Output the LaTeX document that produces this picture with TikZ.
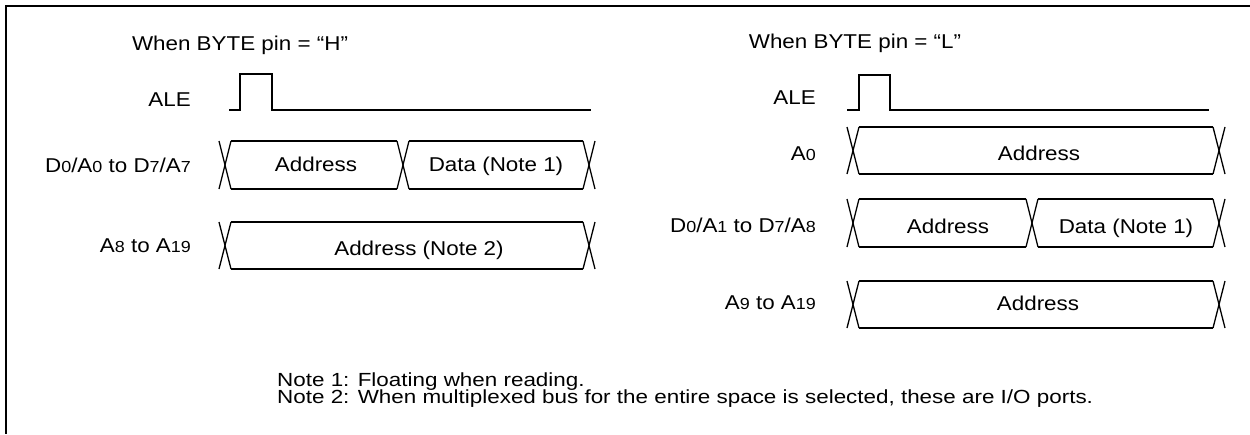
\documentclass[tikz,border=0pt]{standalone}
\usepackage{fontspec}
\setmainfont{Liberation Sans}
\newfontfamily\lbfam[FakeStretch=1.12]{Liberation Sans}
\newfontfamily\ntfam[FakeStretch=1.18]{Liberation Sans}
\newcommand\lbfont{\lbfam\fontsize{20}{24}\selectfont}
\newcommand\ntfont{\ntfam\fontsize{19}{17.5}\selectfont}
\newcommand\dg[1]{{\fontsize{16}{18}\selectfont #1}}
\tikzset{
  lbl/.style={font=\lbfont, inner sep=0pt, anchor=base east},
  txt/.style={font=\lbfont, inner sep=0pt, anchor=base},
  ttl/.style={font=\lbfont, inner sep=0pt, anchor=base},
  wave/.style={line width=1.3pt, line join=miter},
  frameline/.style={line width=2.4pt},
  note/.style={font=\ntfont, inner sep=0pt, anchor=base west, align=left}
}
% crossings of a bus row: #1 top, #2 bottom, #3 list of crossing centres
\newcommand\busrow[3]{%
  \foreach \c in {#3} {
    \draw[wave] (\c-6,#1) -- (\c+6,#2);
    \draw[wave] (\c-6,#2) -- (\c+6,#1);
  }%
}
% top and bottom lines of one bus segment
\newcommand\busline[4]{%
  \draw[wave] (#3+6,#1) -- (#4-6,#1);
  \draw[wave] (#3+6,#2) -- (#4-6,#2);
}
\begin{document}
\begin{tikzpicture}[x=1pt,y=-1pt]
\useasboundingbox (0,0) rectangle (1250,434);
% frame
\coordinate (ftr) at (1250,6);
\coordinate (ftl) at (6,6);
\coordinate (fbl) at (6,434);
\draw[frameline] (ftr) -- (ftl) -- (fbl);

% ---------------- left panel ----------------
\node[ttl] (titleH) at (240,50) {When BYTE pin = “H”};
\node[lbl] (aleL) at (191,106) {ALE};
\coordinate (aleL0) at (229,110);
\coordinate (aleL1) at (591,110);
\draw[wave] (aleL0) -- (240,110) -- (240,74) -- (272,74) -- (272,110) -- (aleL1);

\node[lbl] (dL) at (191,172) {D\dg{0}/A\dg{0} to D\dg{7}/A\dg{7}};
\busrow{141}{189}{225,403,589}
\busline{141}{189}{225}{403}
\busline{141}{189}{403}{589}
\node[txt] (dLaddr) at (316,171) {Address};
\node[txt] (dLdata) at (496,171) {Data (Note 1)};

\node[lbl] (aL) at (191,252) {A\dg{8} to A\dg{19}};
\busrow{222}{269}{225,589}
\busline{222}{269}{225}{589}
\node[txt] (aLaddr) at (419,255) {Address (Note 2)};

% ---------------- right panel ----------------
\node[ttl] (titleL) at (855,48) {When BYTE pin = “L”};
\node[lbl] (aleR) at (816,104) {ALE};
\coordinate (aleR0) at (847,110);
\coordinate (aleR1) at (1209,110);
\draw[wave] (aleR0) -- (859,110) -- (859,75) -- (890,75) -- (890,110) -- (aleR1);

\node[lbl] (a0R) at (816,160) {A\dg{0}};
\busrow{127}{174}{853,1219}
\busline{127}{174}{853}{1219}
\node[txt] (a0Raddr) at (1039,160) {Address};

\node[lbl] (dR) at (816,232) {D\dg{0}/A\dg{1} to D\dg{7}/A\dg{8}};
\busrow{199}{247}{853,1032,1219}
\busline{199}{247}{853}{1032}
\busline{199}{247}{1032}{1219}
\node[txt] (dRaddr) at (948,233) {Address};
\node[txt] (dRdata) at (1126,233) {Data (Note 1)};

\node[lbl] (a9R) at (816,309) {A\dg{9} to A\dg{19}};
\busrow{281}{328}{853,1219}
\busline{281}{328}{853}{1219}
\node[txt] (a9Raddr) at (1038,310) {Address};

% ---------------- notes ----------------
\node[note] (n1) at (277,386) {Note 1: Floating when reading.};
\node[note] (n2) at (277,403) {Note 2: When multiplexed bus for the entire space is selected, these are I/O ports.};
\end{tikzpicture}
\end{document}
